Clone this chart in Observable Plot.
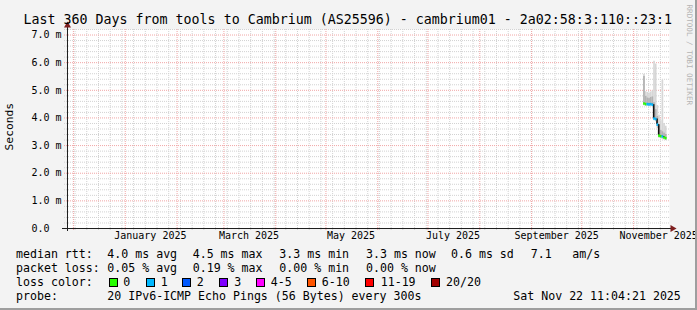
<!DOCTYPE html>
<html><head><meta charset="utf-8">
<script src="https://cdn.jsdelivr.net/npm/d3@7"></script>
<script src="https://cdn.jsdelivr.net/npm/@observablehq/plot@0.6"></script>
<style>
html,body{margin:0;padding:0;background:#f3f3f3;}
#chart{position:relative;width:697px;height:310px;background:#f3f3f3;overflow:hidden;font-family:"DejaVu Sans Mono",monospace;color:#000;}
#chart svg{position:absolute;left:0;top:0;}
.t{position:absolute;white-space:pre;line-height:1;}
.sq{position:absolute;width:7px;height:7px;border:1px solid #000;}
</style></head><body><div id="chart"></div>
<script>
// ---------- data ----------
const title = "Last 360 Days from tools to Cambrium (AS25596) - cambrium01 - 2a02:58:3:110::23:1";
const yTitle = "Seconds";
const watermark = "RRDTOOL / TOBI OETIKER";
const endStamp = "2025-11-22 11:04:21";
const spanDays = 360;

const binDates = ["2025-11-07","2025-11-08","2025-11-09","2025-11-10","2025-11-11","2025-11-12","2025-11-13",
                  "2025-11-14","2025-11-15","2025-11-16","2025-11-17","2025-11-18","2025-11-19","2025-11-20"];
const medianMs = [4.52,4.50,4.50,4.49,4.50,4.48,3.98,3.96,3.76,3.36,3.34,3.33,3.29,3.27];
const lossCount = [0,0,1,1,1,1,1,1,1,0,0,1,0,0];
const smokeMin  = [4.44,4.42,4.42,4.40,4.41,4.40,3.90,3.86,3.62,3.26,3.24,3.22,3.20,3.18];
const smokeLo   = [4.48,4.46,4.46,4.45,4.46,4.45,3.94,3.91,3.69,3.31,3.29,3.28,3.25,3.23];
const smokeHi   = [5.50,4.78,4.72,4.70,4.74,4.76,4.55,4.30,4.05,3.72,3.55,3.50,3.45,3.40];
const smokeMax  = [5.58,4.95,4.92,4.90,4.94,4.98,6.05,5.95,4.45,4.10,3.90,5.37,3.80,3.70];

const yTicks = [0,1,2,3,4,5,6,7];
const yTickLabels = ["0.0","1.0 m","2.0 m","3.0 m","4.0 m","5.0 m","6.0 m","7.0 m"];
const monthLabelDates = ["2025-01-01","2025-03-01","2025-05-01","2025-07-01","2025-09-01","2025-11-01"];
const monthLabels = ["January 2025","March 2025","May 2025","July 2025","September 2025","November 2025"];

const lossLabels = ["0","1","2","3","4-5","6-10","11-19","20/20"];
const lossColors = ["#26ff00","#00b8ff","#0059ff","#7e00ff","#ff00ff","#ff5500","#ff0000","#a10000"];

const rttStats  = ["median rtt:","4.0 ms avg","4.5 ms max","3.3 ms min","3.3 ms now","0.6 ms sd","7.1","am/s"];
const lossStats = ["packet loss:","0.05 % avg","0.19 % max","0.00 % min","0.00 % now"];
const probeText = ["probe:","20 IPv6-ICMP Echo Pings (56 Bytes) every 300s","Sat Nov 22 11:04:21 2025"];

// ---------- build ----------
const parseDay = d3.timeParse("%Y-%m-%d");
const end = d3.timeParse("%Y-%m-%d %H:%M:%S")(endStamp);
const start = d3.timeDay.offset(end, -spanDays);
const bucket = n => n <= 3 ? String(n) : n <= 5 ? "4-5" : n <= 10 ? "6-10" : n <= 19 ? "11-19" : "20/20";

const bins = binDates.map((s, i) => {
  const d = parseDay(s);
  return {d, d2: d3.timeDay.offset(d, 1), med: medianMs[i], loss: bucket(lossCount[i]),
          min: smokeMin[i], lo: smokeLo[i], hi: smokeHi[i], max: smokeMax[i],
          prev: i > 0 ? medianMs[i-1] : medianMs[i]};
});
const steps = bins.slice(1);

const yMax = 7.2;
const minorY = d3.range(0, yMax + 1e-9, 0.2).map(v => +v.toFixed(2)).filter(v => Math.abs(v - Math.round(v)) > 1e-6);
const weeks = d3.timeMonday.range(start, end);
const months = d3.timeMonth.range(start, end);
const labelRows = monthLabelDates.map((s, i) => ({x: d3.timeDay.offset(parseDay(s), 15), text: monthLabels[i]}));

const minorCol = "#d2d2d2", majorCol = "#f1a6a6";

const svg = Plot.plot({
  width: 697, height: 310,
  marginLeft: 67, marginRight: 28, marginTop: 29, marginBottom: 82,
  style: {background: "transparent", fontFamily: "DejaVu Sans Mono, monospace", color: "#000"},
  x: {type: "time", domain: [start, end], axis: null},
  y: {domain: [0, yMax], axis: null},
  color: {type: "ordinal", domain: lossLabels, range: lossColors},
  marks: [
    Plot.frame({fill: "#ffffff", stroke: "none"}),
    Plot.ruleY(minorY, {stroke: minorCol, strokeDasharray: "1,1", insetLeft: -3}),
    Plot.ruleX(weeks, {stroke: minorCol, strokeDasharray: "1,1", insetBottom: -3}),
    Plot.ruleY(yTicks.slice(1), {stroke: majorCol, strokeDasharray: "1,1", insetLeft: -3}),
    Plot.ruleX(months, {stroke: majorCol, strokeDasharray: "1,1", insetBottom: -3}),
    // smoke
    Plot.rect(bins, {x1: "d", x2: "d2", y1: "min", y2: "max", fill: "#d6d6d6"}),
    Plot.rect(bins, {x1: "d", x2: "d2", y1: "lo", y2: "hi", fill: "#b2b2b2"}),
    // median
    Plot.ruleX(steps, {x: "d", y1: "prev", y2: "med", stroke: "#111", strokeWidth: 1.6}),
    Plot.ruleY(bins, {x1: "d", x2: "d2", y: "med", stroke: "loss", strokeWidth: 2.6}),
    // axes
    Plot.ruleY([0], {stroke: "#1f1f1f", insetLeft: -5, insetRight: -3}),
    Plot.ruleX([start], {stroke: "#1f1f1f", insetTop: -4, insetBottom: -3}),
    Plot.dot([{x: end, y: 0}], {x: "x", y: "y", symbol: "triangle", r: 2.6, fill: "#7f1f1f", stroke: "none", rotate: 90, dx: 3}),
    Plot.dot([{x: start, y: yMax}], {x: "x", y: "y", symbol: "triangle", r: 2.6, fill: "#7f1f1f", stroke: "none", dy: -4}),
    // tick labels
    Plot.text(yTicks, {y: d => d, text: (d, i) => yTickLabels[i], frameAnchor: "left", dx: -36, textAnchor: "start", fontSize: 10, fill: "#000"}),
    Plot.text(labelRows, {x: "x", text: "text", frameAnchor: "bottom", dy: 10, fontSize: 10, fill: "#000"})
  ]
});

const chart = document.getElementById("chart");
chart.appendChild(svg);

function txt(s, x, cy, fs, extra) {
  const el = document.createElement("div");
  el.className = "t";
  el.textContent = s;
  el.style.left = x + "px";
  el.style.top = (cy - 0.5 * fs) + "px";
  el.style.fontSize = fs + "px";
  if (extra) Object.assign(el.style, extra);
  chart.appendChild(el);
  return el;
}
txt(title, 23.5, 19.5, 13.3);
// y title rotated
txt(yTitle, -16, 127, 11.3, {width: "52px", textAlign: "center", transform: "rotate(-90deg)", transformOrigin: "26px 50%", left: "-16px"});
// watermark
txt(watermark, 637, 55, 7.6, {width: "104px", textAlign: "center", transform: "rotate(90deg)", color: "#b3b3b3", transformOrigin: "52px 50%"});

const colX = [16, 107.3, 192.7, 279.3, 366, 451, 530.7, 572.3];
const fsL = 11.6;
rttStats.forEach((s, i) => txt(s, colX[i], 254.3, fsL));
lossStats.forEach((s, i) => txt(s, colX[i], 268.3, fsL));
txt(probeText[0], 16, 296.3, fsL);
txt(probeText[1], 107.3, 296.3, fsL);
txt(probeText[2], 513.3, 296.3, fsL);
txt("loss color:", 16, 282.3, fsL);
const sqX = [109, 145.7, 182.3, 219, 255.7, 307.3, 365, 430.7];
const lbX = [123.3, 160.7, 196.7, 234.3, 270.7, 321.7, 380.7, 446];
lossLabels.forEach((l, i) => {
  const sq = document.createElement("div");
  sq.className = "sq";
  sq.style.left = sqX[i] + "px";
  sq.style.top = "278px";
  sq.style.background = lossColors[i];
  chart.appendChild(sq);
  txt(l, lbX[i], 282.3, fsL);
});

// 3D frame shade
const shadeR = document.createElement("div");
Object.assign(shadeR.style, {position: "absolute", right: "0px", top: "0px", width: "2px", height: "310px", background: "#9e9e9e"});
chart.appendChild(shadeR);
const shadeB = document.createElement("div");
Object.assign(shadeB.style, {position: "absolute", left: "0px", bottom: "0px", width: "697px", height: "2px", background: "#9e9e9e"});
chart.appendChild(shadeB);
</script></body></html>
